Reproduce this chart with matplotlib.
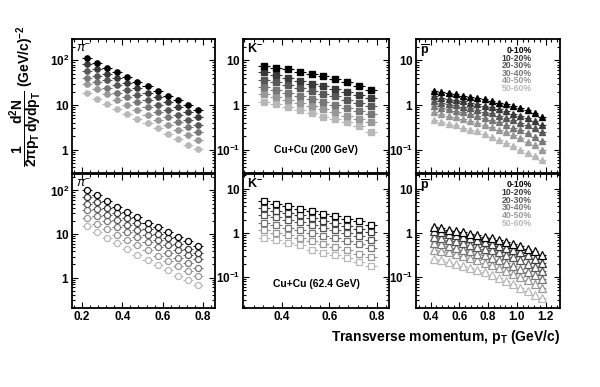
import numpy as np
import matplotlib
matplotlib.use("Agg")
import matplotlib.pyplot as plt
from matplotlib.ticker import FixedLocator, LogLocator, NullFormatter, MultipleLocator, FixedFormatter

plt.rcParams['font.family'] = ['Liberation Sans', 'DejaVu Sans']
plt.rcParams['mathtext.fontset'] = 'custom'
plt.rcParams['mathtext.rm'] = 'Liberation Sans'
plt.rcParams['mathtext.bf'] = 'Liberation Sans:bold'
plt.rcParams['mathtext.it'] = 'Liberation Sans:italic'

centralities = ["0-10%", "10-20%", "20-30%", "30-40%", "40-50%", "50-60%"]
colors = ['#000000', '#3a3a3a', '#585858', '#777777', '#989898', '#b8b8b8']

pt_pi = [0.225, 0.275, 0.325, 0.375, 0.425, 0.475, 0.525, 0.575, 0.625, 0.675, 0.725, 0.775]
pt_k = [0.325, 0.375, 0.425, 0.475, 0.525, 0.575, 0.625, 0.675, 0.725, 0.775]
pt_p = [0.425, 0.475, 0.525, 0.575, 0.625, 0.675, 0.725, 0.775, 0.825, 0.875,
        0.925, 0.975, 1.025, 1.075, 1.125, 1.175]

# Cu+Cu 200 GeV
pi_200 = [
    [112, 89, 69, 54, 42, 33, 26, 20.5, 16, 12.7, 10, 7.9],
    [81, 64, 50, 39.5, 31, 24.5, 19, 15, 11.8, 9.2, 7.1, 5.4],
    [58, 45, 35.5, 27.5, 21.5, 16.8, 13, 10.2, 7.9, 6.1, 4.7, 3.6],
    [41, 32, 24.5, 19, 14.8, 11.4, 8.8, 6.8, 5.3, 4.1, 3.2, 2.45],
    [29, 22.4, 17.2, 13.2, 10.2, 7.9, 6.0, 4.6, 3.6, 2.75, 2.15, 1.66],
    [19, 13.8, 10.3, 8.1, 6.3, 4.9, 3.9, 3.0, 2.2, 1.7, 1.3, 1.05],
]
k_200 = [
    [7.5, 6.9, 6.3, 5.6, 4.9, 4.35, 3.8, 3.3, 2.7, 2.15],
    [5.4, 4.7, 4.1, 3.5, 3.0, 2.6, 2.3, 1.95, 1.65, 1.4],
    [3.7, 3.2, 2.75, 2.4, 2.05, 1.8, 1.55, 1.32, 1.13, 0.97],
    [2.5, 2.15, 1.85, 1.6, 1.38, 1.17, 1.0, 0.86, 0.74, 0.63],
    [1.78, 1.5, 1.3, 1.1, 0.95, 0.81, 0.69, 0.58, 0.49, 0.41],
    [1.15, 1.05, 0.89, 0.79, 0.65, 0.55, 0.48, 0.41, 0.34, 0.25],
]
p_200 = [
    [2.1, 1.95, 1.85, 1.73, 1.63, 1.53, 1.44, 1.34, 1.24, 1.13, 1.03, 0.93, 0.84, 0.76, 0.66, 0.55],
    [1.55, 1.45, 1.36, 1.28, 1.2, 1.12, 1.04, 0.96, 0.88, 0.8, 0.72, 0.64, 0.57, 0.5, 0.43, 0.36],
    [1.2, 1.12, 1.05, 0.98, 0.92, 0.85, 0.78, 0.71, 0.65, 0.58, 0.52, 0.46, 0.4, 0.35, 0.3, 0.25],
    [0.93, 0.87, 0.81, 0.75, 0.69, 0.63, 0.57, 0.51, 0.46, 0.41, 0.36, 0.31, 0.27, 0.23, 0.19, 0.16],
    [0.68, 0.63, 0.58, 0.53, 0.49, 0.44, 0.4, 0.36, 0.32, 0.28, 0.245, 0.21, 0.18, 0.15, 0.125, 0.1],
    [0.45, 0.41, 0.38, 0.355, 0.31, 0.28, 0.26, 0.22, 0.195, 0.165, 0.14, 0.12, 0.1, 0.085, 0.072, 0.06],
]
# Cu+Cu 62.4 GeV
pi_62 = [
    [100, 77, 57, 42, 31.6, 24, 18, 14.2, 10.9, 8.6, 6.8, 5.4],
    [70, 53, 40, 30, 23, 17.5, 13.3, 10.2, 7.9, 6.0, 4.6, 3.6],
    [49, 37, 28, 21, 16, 12.3, 9.4, 7.2, 5.5, 4.2, 3.3, 2.6],
    [35, 26, 19.5, 14.7, 11.2, 8.5, 6.4, 4.9, 3.7, 2.8, 2.15, 1.65],
    [23, 17, 12.8, 9.7, 7.3, 5.5, 4.2, 3.2, 2.45, 1.85, 1.4, 1.1],
    [15.5, 11.2, 8.1, 6.1, 4.5, 3.3, 2.5, 1.9, 1.47, 1.1, 0.87, 0.68],
]
k_62 = [
    [5.2, 4.6, 4.1, 3.5, 3.1, 2.7, 2.36, 2.1, 1.82, 1.48],
    [3.6, 3.2, 2.8, 2.5, 2.15, 1.9, 1.65, 1.45, 1.22, 1.05],
    [2.6, 2.3, 2.0, 1.75, 1.52, 1.32, 1.15, 1.0, 0.83, 0.70],
    [1.7, 1.5, 1.32, 1.15, 1.0, 0.87, 0.75, 0.65, 0.55, 0.46],
    [1.14, 1.0, 0.88, 0.76, 0.66, 0.57, 0.48, 0.41, 0.34, 0.28],
    [0.76, 0.68, 0.59, 0.52, 0.40, 0.35, 0.31, 0.27, 0.22, 0.175],
]
p_62 = [
    [1.38, 1.27, 1.18, 1.1, 1.03, 0.96, 0.89, 0.82, 0.75, 0.68, 0.62, 0.56, 0.5, 0.44, 0.38, 0.31],
    [1.1, 1.02, 0.95, 0.88, 0.81, 0.75, 0.69, 0.63, 0.57, 0.51, 0.46, 0.41, 0.36, 0.31, 0.26, 0.21],
    [0.81, 0.75, 0.7, 0.64, 0.59, 0.54, 0.49, 0.44, 0.4, 0.36, 0.32, 0.28, 0.24, 0.2, 0.17, 0.14],
    [0.59, 0.55, 0.5, 0.46, 0.42, 0.38, 0.34, 0.31, 0.27, 0.24, 0.21, 0.18, 0.155, 0.13, 0.11, 0.09],
    [0.42, 0.39, 0.36, 0.33, 0.3, 0.27, 0.24, 0.21, 0.185, 0.16, 0.14, 0.12, 0.1, 0.085, 0.07, 0.058],
    [0.26, 0.24, 0.22, 0.2, 0.18, 0.16, 0.145, 0.13, 0.11, 0.095, 0.082, 0.07, 0.058, 0.048, 0.04, 0.033],
]

W, H = 600, 387
fig = plt.figure(figsize=(6, 3.87), dpi=100)

cols_px = [(72, 215), (243, 389), (416, 560)]
rows_px = [(39, 173), (173.5, 308)]

def add_ax(col, row):
    x0, x1 = cols_px[col]
    y0, y1 = rows_px[row]
    return fig.add_axes([x0 / W, 1 - y1 / H, (x1 - x0) / W, (y1 - y0) / H])

panels = [
    (0, 0, pt_pi, pi_200, 'o', True, (0.15, 0.86), (0.3, 300), r'$\pi^{-}$'),
    (1, 0, pt_k, k_200, 's', True, (0.235, 0.852), (0.03, 30), r'$\mathbf{K^{-}}$'),
    (2, 0, pt_p, p_200, '^', True, (0.298, 1.3), (0.03, 30), r'$\mathbf{\overline{p}}$'),
    (0, 1, pt_pi, pi_62, 'o', False, (0.15, 0.86), (0.2, 245), r'$\pi^{-}$'),
    (1, 1, pt_k, k_62, 's', False, (0.235, 0.852), (0.02, 22), r'$\mathbf{K^{-}}$'),
    (2, 1, pt_p, p_62, '^', False, (0.298, 1.3), (0.02, 22), r'$\mathbf{\overline{p}}$'),
]

msz = {'o': 3.8, 's': 4.0, '^': 4.4}
msz_open = {'o': 4.4, 's': 4.6, '^': 5.4}
ylab = {0.1: r'$\mathbf{10^{-1}}$', 1: r'$\mathbf{1}$', 10: r'$\mathbf{10}$', 100: r'$\mathbf{10^{2}}$'}

for col, row, x, data, mk, filled, xlim, ylim, lab in panels:
    ax = add_ax(col, row)
    for i, ys in enumerate(data):
        c = colors[i]
        if filled:
            ax.errorbar(x, ys, xerr=0.025, fmt=mk, color=c, ms=msz[mk], mec=c, mfc=c,
                        elinewidth=0.8, capsize=0, zorder=3 + (6 - i))
        else:
            ax.errorbar(x, ys, xerr=0.025, fmt=mk, color=c, ms=msz_open[mk], mec=c, mfc='white',
                        mew=0.9, elinewidth=0.8, capsize=0, zorder=3 + (6 - i))
    ax.set_yscale('log')
    ax.set_xlim(*xlim)
    ax.set_ylim(*ylim)
    maj = [v for v in [0.1, 1, 10, 100] if ylim[0] <= v <= ylim[1]]
    ax.yaxis.set_major_locator(FixedLocator(maj))
    ax.yaxis.set_major_formatter(FixedFormatter([ylab[v] for v in maj]))
    ax.yaxis.set_minor_locator(LogLocator(base=10, subs=np.arange(2, 10), numticks=20))
    ax.yaxis.set_minor_formatter(NullFormatter())
    ax.xaxis.set_major_locator(MultipleLocator(0.2))
    ax.xaxis.set_minor_locator(MultipleLocator(0.04))
    ax.tick_params(which='both', direction='in', top=True, right=True, width=0.8)
    ax.tick_params(which='major', length=4.5, labelsize=8.5, pad=2)
    ax.tick_params(which='minor', length=2.2)
    for t in ax.get_xticklabels():
        t.set_fontweight('bold')
    for s in ax.spines.values():
        s.set_linewidth(1.3)
    if row == 0:
        ax.tick_params(labelbottom=False)
    else:
        ax.xaxis.set_major_formatter(plt.FuncFormatter(lambda v, p: f"{v:.1f}"))
    ax.text(0.03, 0.97, lab, transform=ax.transAxes, ha='left', va='top', fontsize=9,
            fontweight='bold')
    if col == 1:
        energy = "Cu+Cu (200 GeV)" if row == 0 else "Cu+Cu (62.4 GeV)"
        ax.text(0.5, 0.17 if row == 0 else 0.175, energy, transform=ax.transAxes,
                ha='center', va='center', fontsize=7.5, fontweight='bold')
    if col == 2:
        for i, name in enumerate(centralities):
            ax.text(0.805, 0.915 - i * 0.057, name, transform=ax.transAxes, ha='right',
                    va='center', fontsize=6.2, fontweight='bold', color=colors[i])

fig.text(560 / W, 1 - 337 / H, r'Transverse momentum, p$_{\mathbf{T}}$ (GeV/c)',
         ha='right', va='center', fontsize=10, fontweight='bold')
fig.text(26 / W, 1 - 96 / H,
         r'$\mathbf{\dfrac{1}{2\pi p_T}\dfrac{d^2N}{dydp_T}}$ (GeV/c)$^{\mathbf{-2}}$',
         rotation=90, ha='center', va='center', fontsize=10, fontweight='bold')

fig.savefig('out.png', dpi=100)
